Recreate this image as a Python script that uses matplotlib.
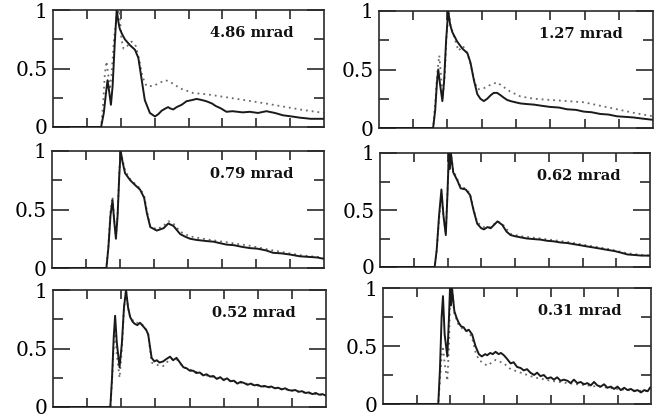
import matplotlib
matplotlib.use("Agg")
import matplotlib.pyplot as plt
from matplotlib.ticker import FixedLocator, NullFormatter

plt.rcParams['font.family'] = ['DejaVu Serif']

labels = ["4.86 mrad", "1.27 mrad", "0.79 mrad", "0.62 mrad", "0.52 mrad", "0.31 mrad"]
y_ticks = [0, 0.5, 1]
y_ticklabels = ["0", "0.5", "1"]

# Panel 1: 4.86 mrad
x1s = [0, 1.42, 1.50, 1.56, 1.61, 1.66, 1.71, 1.76, 1.82, 1.88, 1.93, 1.97, 2.03, 2.12, 2.27, 2.42, 2.52, 2.62, 2.71, 2.86, 3.01, 3.11, 3.21, 3.33, 3.40, 3.45, 3.55, 3.65, 3.80, 3.94, 4.10, 4.24, 4.40, 4.53, 4.70, 4.80, 4.95, 5.12, 5.30, 5.45, 5.60, 5.81, 6.05, 6.30, 6.55, 6.79, 7.05, 7.28, 7.45, 7.60, 7.80, 8.0]
y1s = [0, 0.0, 0.12, 0.28, 0.40, 0.30, 0.19, 0.35, 0.70, 1.00, 0.90, 0.84, 0.80, 0.75, 0.70, 0.66, 0.59, 0.40, 0.23, 0.12, 0.09, 0.11, 0.14, 0.16, 0.17, 0.16, 0.15, 0.17, 0.19, 0.22, 0.23, 0.24, 0.23, 0.22, 0.20, 0.18, 0.16, 0.13, 0.135, 0.13, 0.125, 0.13, 0.12, 0.135, 0.12, 0.10, 0.09, 0.08, 0.075, 0.07, 0.07, 0.07]
x1d = [0, 1.42, 1.48, 1.53, 1.58, 1.63, 1.68, 1.73, 1.80, 1.88, 1.96, 2.02, 2.08, 2.15, 2.32, 2.45, 2.55, 2.64, 2.76, 2.96, 3.16, 3.33, 3.55, 3.75, 4.14, 4.53, 5.32, 6.30, 7.28, 8.0]
y1d = [0, 0.0, 0.20, 0.45, 0.56, 0.45, 0.32, 0.45, 0.75, 0.95, 1.00, 0.75, 0.67, 0.68, 0.73, 0.69, 0.57, 0.43, 0.35, 0.35, 0.38, 0.40, 0.37, 0.33, 0.29, 0.28, 0.245, 0.20, 0.15, 0.12]

# Panel 2: 1.27 mrad
x2s = [0, 1.58, 1.64, 1.69, 1.73, 1.78, 1.85, 1.90, 1.96, 2.02, 2.08, 2.14, 2.28, 2.43, 2.58, 2.67, 2.77, 2.87, 2.96, 3.06, 3.16, 3.26, 3.35, 3.45, 3.55, 3.64, 3.74, 3.84, 3.98, 4.13, 4.30, 4.52, 4.75, 5.00, 5.25, 5.49, 5.75, 5.98, 6.20, 6.46, 6.70, 6.95, 7.20, 7.43, 7.70, 8.0]
y2s = [0, 0.0, 0.15, 0.38, 0.50, 0.38, 0.23, 0.40, 0.75, 1.00, 0.88, 0.82, 0.74, 0.68, 0.64, 0.56, 0.41, 0.29, 0.25, 0.23, 0.25, 0.28, 0.30, 0.30, 0.28, 0.26, 0.24, 0.23, 0.22, 0.21, 0.205, 0.20, 0.19, 0.18, 0.175, 0.16, 0.155, 0.14, 0.135, 0.12, 0.115, 0.10, 0.095, 0.09, 0.08, 0.07]
x2d = [0, 1.58, 1.65, 1.71, 1.76, 1.81, 1.86, 1.92, 1.97, 2.03, 2.09, 2.15, 2.32, 2.45, 2.58, 2.67, 2.77, 2.87, 3.06, 3.26, 3.45, 3.64, 3.84, 4.13, 4.52, 5.00, 5.49, 5.98, 6.46, 6.95, 7.43, 8.0]
y2d = [0, 0.0, 0.25, 0.50, 0.62, 0.45, 0.25, 0.45, 0.78, 1.00, 0.88, 0.82, 0.66, 0.70, 0.64, 0.55, 0.42, 0.33, 0.34, 0.37, 0.39, 0.35, 0.31, 0.27, 0.25, 0.24, 0.23, 0.22, 0.19, 0.16, 0.13, 0.10]

# Panel 3: 0.79 mrad
x3s = [0, 1.60, 1.66, 1.72, 1.78, 1.83, 1.88, 1.93, 1.98, 2.02, 2.08, 2.15, 2.30, 2.44, 2.59, 2.71, 2.79, 2.89, 3.08, 3.28, 3.42, 3.57, 3.77, 3.90, 4.06, 4.25, 4.40, 4.55, 4.75, 4.90, 5.13, 5.35, 5.60, 5.82, 6.05, 6.30, 6.50, 6.75, 7.00, 7.29, 7.55, 7.80, 7.97]
y3s = [0, 0.0, 0.18, 0.45, 0.58, 0.40, 0.25, 0.45, 0.80, 1.00, 0.90, 0.81, 0.75, 0.71, 0.67, 0.60, 0.47, 0.35, 0.32, 0.34, 0.38, 0.36, 0.29, 0.27, 0.25, 0.24, 0.235, 0.23, 0.225, 0.215, 0.20, 0.195, 0.18, 0.17, 0.165, 0.15, 0.13, 0.125, 0.115, 0.10, 0.095, 0.09, 0.08]
x3d = [0, 1.60, 1.66, 1.72, 1.78, 1.83, 1.88, 1.93, 1.98, 2.02, 2.08, 2.15, 2.30, 2.44, 2.59, 2.71, 2.79, 2.89, 3.08, 3.28, 3.42, 3.57, 3.77, 4.06, 4.55, 5.13, 5.82, 6.50, 7.29, 7.97]
y3d = [0, 0.0, 0.20, 0.48, 0.61, 0.42, 0.26, 0.47, 0.82, 1.00, 0.92, 0.83, 0.76, 0.72, 0.68, 0.62, 0.49, 0.36, 0.33, 0.36, 0.40, 0.38, 0.31, 0.27, 0.245, 0.22, 0.19, 0.15, 0.11, 0.09]

# Panel 4: 0.62 mrad
x4s = [0, 1.62, 1.68, 1.75, 1.82, 1.88, 1.95, 2.00, 2.04, 2.07, 2.10, 2.17, 2.29, 2.39, 2.54, 2.67, 2.77, 2.88, 3.00, 3.08, 3.18, 3.28, 3.38, 3.48, 3.62, 3.75, 3.87, 4.00, 4.17, 4.35, 4.55, 4.76, 4.95, 5.15, 5.35, 5.55, 5.75, 5.95, 6.14, 6.35, 6.55, 6.74, 6.95, 7.15, 7.33, 7.55, 7.75, 7.97]
y4s = [0, 0.0, 0.15, 0.45, 0.68, 0.45, 0.28, 0.65, 1.00, 0.86, 1.00, 0.83, 0.76, 0.69, 0.68, 0.63, 0.50, 0.38, 0.34, 0.33, 0.35, 0.34, 0.37, 0.40, 0.37, 0.31, 0.28, 0.27, 0.26, 0.25, 0.245, 0.24, 0.23, 0.225, 0.215, 0.21, 0.20, 0.19, 0.18, 0.17, 0.16, 0.15, 0.14, 0.125, 0.11, 0.105, 0.10, 0.10]
x4d = [0, 1.62, 1.68, 1.75, 1.82, 1.88, 1.95, 2.00, 2.04, 2.07, 2.10, 2.17, 2.29, 2.39, 2.54, 2.67, 2.77, 2.88, 3.08, 3.28, 3.48, 3.62, 3.87, 4.17, 4.76, 5.55, 6.14, 6.74, 7.33, 7.97]
y4d = [0, 0.0, 0.14, 0.42, 0.63, 0.45, 0.30, 0.66, 0.95, 0.90, 1.00, 0.85, 0.77, 0.70, 0.69, 0.64, 0.51, 0.39, 0.35, 0.35, 0.40, 0.38, 0.29, 0.27, 0.25, 0.22, 0.19, 0.16, 0.12, 0.10]

# Panel 5: 0.52 mrad
x5s = [0, 1.68, 1.73, 1.78, 1.82, 1.87, 1.95, 2.02, 2.08, 2.14, 2.20, 2.26, 2.33, 2.40, 2.47, 2.55, 2.61, 2.67, 2.73, 2.79, 2.89, 2.97, 3.04, 3.12, 3.23, 3.32, 3.43, 3.52, 3.62, 3.72, 3.82, 3.92, 4.01, 4.11, 4.20, 4.30, 4.40, 4.50, 4.60, 4.70, 4.80, 4.90, 5.00, 5.10, 5.20, 5.30, 5.40, 5.50, 5.60, 5.70, 5.80, 5.90, 6.00, 6.10, 6.20, 6.30, 6.40, 6.50, 6.60, 6.70, 6.80, 6.90, 7.00, 7.10, 7.20, 7.30, 7.40, 7.50, 7.60, 7.70, 7.80, 7.90, 7.97]
y5s = [0, 0.0, 0.25, 0.60, 0.78, 0.55, 0.34, 0.55, 0.85, 1.00, 0.85, 0.77, 0.73, 0.71, 0.70, 0.72, 0.70, 0.68, 0.66, 0.62, 0.42, 0.39, 0.40, 0.38, 0.39, 0.41, 0.43, 0.40, 0.42, 0.38, 0.34, 0.33, 0.31, 0.31, 0.29, 0.295, 0.27, 0.28, 0.26, 0.265, 0.24, 0.255, 0.23, 0.245, 0.22, 0.225, 0.20, 0.215, 0.205, 0.19, 0.20, 0.185, 0.19, 0.175, 0.18, 0.17, 0.175, 0.16, 0.165, 0.15, 0.16, 0.145, 0.14, 0.145, 0.13, 0.135, 0.12, 0.125, 0.11, 0.12, 0.105, 0.11, 0.10]
x5d = [0, 1.68, 1.73, 1.78, 1.82, 1.87, 1.95, 2.02, 2.08, 2.14, 2.20, 2.26, 2.40, 2.55, 2.67, 2.79, 2.89, 3.04, 3.23, 3.43, 3.62, 3.82, 4.11, 4.50, 5.08, 5.66, 6.25, 6.83, 7.42, 7.97]
y5d = [0, 0.0, 0.22, 0.52, 0.68, 0.45, 0.25, 0.50, 0.85, 1.00, 0.85, 0.77, 0.72, 0.72, 0.69, 0.62, 0.38, 0.36, 0.35, 0.41, 0.41, 0.34, 0.31, 0.27, 0.23, 0.20, 0.17, 0.15, 0.12, 0.10]

# Panel 6: 0.31 mrad
x6s = [0, 1.65, 1.70, 1.75, 1.79, 1.84, 1.92, 1.97, 2.00, 2.03, 2.06, 2.13, 2.20, 2.26, 2.33, 2.41, 2.48, 2.56, 2.66, 2.76, 2.86, 2.95, 3.05, 3.11, 3.20, 3.28, 3.36, 3.45, 3.52, 3.61, 3.70, 3.81, 3.90, 4.00, 4.11, 4.20, 4.30, 4.40, 4.51, 4.60, 4.70, 4.80, 4.90, 5.01, 5.10, 5.20, 5.30, 5.40, 5.51, 5.60, 5.70, 5.80, 5.90, 6.00, 6.10, 6.20, 6.30, 6.40, 6.50, 6.60, 6.70, 6.80, 6.90, 7.00, 7.10, 7.20, 7.30, 7.40, 7.50, 7.60, 7.70, 7.80, 7.90, 7.97]
y6s = [0, 0.0, 0.30, 0.75, 0.93, 0.60, 0.41, 0.75, 1.00, 0.85, 1.00, 0.80, 0.74, 0.70, 0.67, 0.66, 0.63, 0.64, 0.60, 0.50, 0.43, 0.41, 0.43, 0.42, 0.44, 0.43, 0.45, 0.43, 0.44, 0.42, 0.39, 0.35, 0.36, 0.32, 0.31, 0.29, 0.30, 0.27, 0.25, 0.27, 0.24, 0.25, 0.22, 0.23, 0.21, 0.23, 0.20, 0.21, 0.20, 0.18, 0.21, 0.18, 0.19, 0.17, 0.18, 0.16, 0.19, 0.16, 0.15, 0.17, 0.14, 0.15, 0.13, 0.15, 0.12, 0.14, 0.12, 0.13, 0.11, 0.12, 0.10, 0.12, 0.11, 0.14]
x6d = [0, 1.65, 1.70, 1.75, 1.79, 1.84, 1.92, 1.97, 2.00, 2.03, 2.06, 2.13, 2.26, 2.41, 2.56, 2.66, 2.76, 2.86, 3.11, 3.36, 3.61, 3.81, 4.11, 4.51, 5.01, 5.51, 6.10, 6.70, 7.30, 7.95]
y6d = [0, 0.0, 0.20, 0.42, 0.50, 0.35, 0.20, 0.50, 0.90, 0.85, 1.00, 0.78, 0.68, 0.64, 0.62, 0.57, 0.45, 0.38, 0.33, 0.38, 0.35, 0.30, 0.27, 0.23, 0.20, 0.18, 0.16, 0.14, 0.12, 0.11]

panels = [
    (x1s, y1s, x1d, y1d),
    (x2s, y2s, x2d, y2d),
    (x3s, y3s, x3d, y3d),
    (x4s, y4s, x4d, y4d),
    (x5s, y5s, x5d, y5d),
    (x6s, y6s, x6d, y6d),
]

W, H = 668, 420
# axes boxes in pixels: left, top, right, bottom
boxes = [
    (53, 10, 324, 127),
    (379, 11, 653, 128),
    (52, 151, 324, 268),
    (380, 153, 650, 267),
    (53, 290, 326, 407),
    (383, 288, 651, 404),
]

fig = plt.figure(figsize=(W / 100, H / 100), dpi=100)
frame_col = '#2a2a2a'
for i, ((xs, ys, xd, yd), (l, t, r, b)) in enumerate(zip(panels, boxes)):
    ax = fig.add_axes([l / W, 1 - b / H, (r - l) / W, (b - t) / H])
    ax.plot(xd, yd, linestyle=(0, (1, 2.2)), color='#6a6a6a', lw=1.3, zorder=2)
    ax.plot(xs, ys, '-', color='#1a1a1a', lw=1.4, zorder=3)
    ax.set_xlim(0, 8)
    ax.set_ylim(0, 1)
    ax.xaxis.set_major_locator(FixedLocator([1, 2, 3, 4, 5, 6, 7]))
    ax.xaxis.set_major_formatter(NullFormatter())
    ax.yaxis.set_major_locator(FixedLocator(y_ticks))
    ax.set_yticklabels(y_ticklabels)
    ax.yaxis.set_minor_locator(FixedLocator([0.25, 0.75]))
    ax.tick_params(axis='x', which='major', direction='in', top=True, bottom=True,
                   length=6.5, width=1.2, color=frame_col)
    ax.tick_params(axis='y', which='major', direction='in', left=True, right=True,
                   length=12, width=1.2, color=frame_col, labelsize=14.5, pad=4)
    ax.tick_params(axis='y', which='minor', direction='in', left=True, right=True,
                   length=7, width=1.2, color=frame_col)
    for s in ax.spines.values():
        s.set_linewidth(1.2)
        s.set_color(frame_col)
    ax.text(0.735, 0.80, labels[i], transform=ax.transAxes, ha='center', va='center',
            fontsize=10.5, fontweight='bold', color='#111111')

fig.savefig('out.png', dpi=100)
